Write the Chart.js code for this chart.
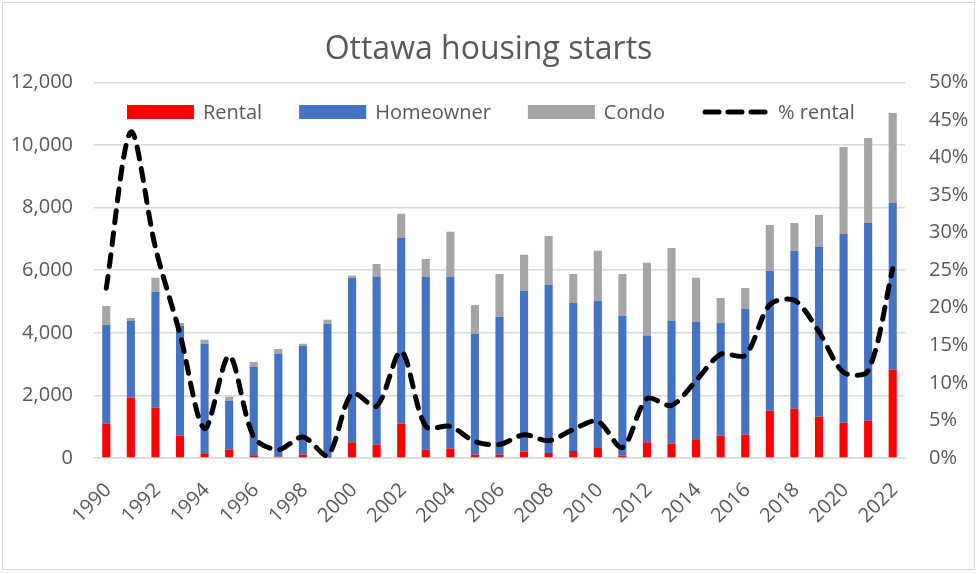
<!DOCTYPE html>
<html>
<head>
<meta charset="utf-8">
<script src="https://cdn.jsdelivr.net/npm/chart.js@4.4.1/dist/chart.umd.min.js"></script>
<style>
  html, body { margin: 0; padding: 0; background: #fff; }
  #wrap { position: relative; width: 977px; height: 574px; }
  #frame { position: absolute; left: 2px; top: 2px; right: 2px; bottom: 4px; border: 1px solid #d9d9d9; pointer-events: none; }
</style>
</head>
<body>
<div id="wrap">
  <canvas id="chart" width="977" height="574"></canvas>
  <div id="frame"></div>
</div>
<script>
const years = ["1990","1991","1992","1993","1994","1995","1996","1997","1998","1999",
  "2000","2001","2002","2003","2004","2005","2006","2007","2008","2009",
  "2010","2011","2012","2013","2014","2015","2016","2017","2018","2019",
  "2020","2021","2022"];

const rental = [1100,1935,1615,710,150,270,85,40,105,15,
  500,425,1095,265,300,105,100,210,160,220,
  320,75,500,465,600,712,745,1510,1575,1320,
  1130,1190,2820];

const homeowner = [3155,2445,3685,3510,3500,1560,2830,3290,3480,4275,
  5255,5360,5935,5520,5485,3865,4410,5130,5370,4735,
  4705,4465,3415,3915,3750,3608,4020,4470,5040,5425,
  6030,6320,5330];

const condo = [605,90,455,90,125,130,150,150,65,125,
  65,415,770,575,1440,920,1370,1150,1565,925,
  1595,1340,2320,2330,1405,795,670,1465,895,1020,
  2775,2715,2870];

// percent of starts that are rental
const pctRental = [22.6,43.4,28.0,16.5,3.9,13.6,2.8,1.1,2.8,0.3,
  8.6,6.9,14.2,4.2,4.2,2.2,1.8,3.1,2.3,3.8,
  4.9,1.4,7.9,7.0,10.3,13.8,13.7,20.4,21.0,16.8,
  11.4,11.6,25.2];

const FONT = "'Open Sans', 'Noto Sans', sans-serif";
const TEXT = "#595959";
const GRID = "#d9d9d9";

// legend drawn inside the plot area, like the original
const insideLegend = {
  id: "insideLegend",
  afterDraw(chart) {
    const ctx = chart.ctx;
    ctx.save();
    ctx.font = "20px " + FONT;
    ctx.textBaseline = "middle";
    let x = 127;
    const y = 112;
    chart.data.datasets.forEach(ds => {
      if (ds.type === "line") {
        ctx.strokeStyle = ds.borderColor;
        ctx.lineWidth = ds.borderWidth;
        ctx.lineCap = "round";
        ctx.setLineDash([14, 9]);
        ctx.beginPath();
        ctx.moveTo(x + 3, y);
        ctx.lineTo(x + 64, y);
        ctx.stroke();
        ctx.setLineDash([]);
      } else {
        ctx.fillStyle = ds.backgroundColor;
        ctx.fillRect(x, y - 7, 67, 14);
      }
      x += 67 + 9;
      ctx.fillStyle = TEXT;
      ctx.fillText(ds.label, x, y + 1);
      x += ctx.measureText(ds.label).width + 37;
    });
    ctx.restore();
  }
};

// year labels at 45 degrees, every second year
const yearLabels = {
  id: "yearLabels",
  afterDraw(chart) {
    const ctx = chart.ctx;
    const xs = chart.scales.x;
    const base = chart.chartArea.bottom;
    ctx.save();
    ctx.font = "20px " + FONT;
    ctx.fillStyle = TEXT;
    ctx.textAlign = "right";
    ctx.textBaseline = "middle";
    chart.data.labels.forEach((lab, i) => {
      if (i % 2 !== 0) return;
      ctx.save();
      ctx.translate(xs.getPixelForTick(i) + 2, base + 29);
      ctx.rotate(-Math.PI / 4);
      ctx.fillText(lab, 0, 0);
      ctx.restore();
    });
    ctx.restore();
  }
};

new Chart(document.getElementById("chart"), {
  type: "bar",
  data: {
    labels: years,
    datasets: [
      { label: "Rental", data: rental, backgroundColor: "#ff0000", stack: "s", order: 1 },
      { label: "Homeowner", data: homeowner, backgroundColor: "#4472c4", stack: "s", order: 1 },
      { label: "Condo", data: condo, backgroundColor: "#a5a5a5", stack: "s", order: 1 },
      {
        label: "% rental",
        type: "line",
        data: pctRental,
        yAxisID: "y1",
        borderColor: "#000000",
        borderWidth: 5,
        borderDash: [12, 10],
        borderCapStyle: "round",
        tension: 0.3,
        pointRadius: 0,
        fill: false,
        order: 0
      }
    ]
  },
  options: {
    responsive: false,
    animation: false,
    layout: { padding: 0 },
    datasets: { bar: { barPercentage: 0.33, categoryPercentage: 1.0 } },
    plugins: {
      legend: { display: false },
      tooltip: { enabled: false },
      title: {
        display: true,
        text: "Ottawa housing starts",
        color: TEXT,
        font: { family: FONT, size: 32, weight: "normal" },
        padding: { top: 31, bottom: 13 }
      }
    },
    scales: {
      x: {
        stacked: true,
        grid: { display: false },
        border: { color: GRID, width: 1.5 },
        ticks: { display: false },
        afterFit(scale) { scale.height = 116; }
      },
      y: {
        stacked: true,
        min: 0,
        max: 12000,
        grid: { color: GRID, lineWidth: 1.5, drawTicks: false },
        border: { display: false },
        ticks: {
          stepSize: 2000,
          padding: 21,
          color: TEXT,
          font: { family: FONT, size: 20 },
          callback: v => v.toLocaleString("en-US")
        },
        afterFit(scale) { scale.width = 94; }
      },
      y1: {
        position: "right",
        min: 0,
        max: 50,
        grid: { drawOnChartArea: false, drawTicks: false },
        border: { display: false },
        ticks: {
          stepSize: 5,
          padding: 24,
          color: TEXT,
          font: { family: FONT, size: 20 },
          callback: v => v + "%"
        },
        afterFit(scale) { scale.width = 72; }
      }
    }
  },
  plugins: [insideLegend, yearLabels]
});
</script>
</body>
</html>
